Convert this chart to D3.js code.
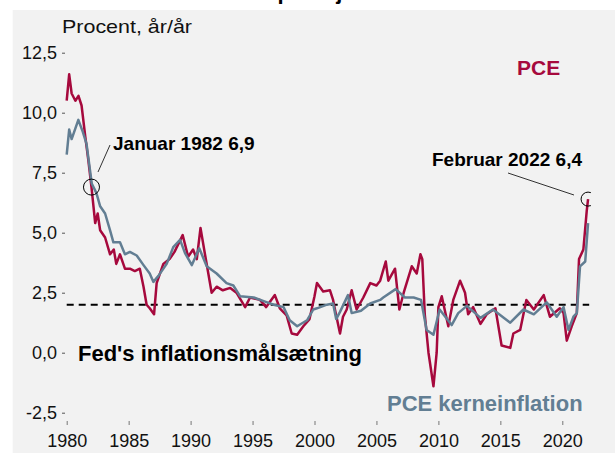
<!DOCTYPE html>
<html>
<head>
<meta charset="utf-8">
<script src="https://cdn.jsdelivr.net/npm/d3@7"></script>
<style>
  body { margin: 0; background: #fff; }
  svg { display: block; font-family: "Liberation Sans", Arial, sans-serif; }
</style>
</head>
<body>
<svg width="615" height="453"></svg>
<script>
// PCE, headline, y/y in percent
let pceYears = [1980.0, 1980.2, 1980.4, 1980.7, 1980.95, 1981.2, 1981.5, 1981.75, 1982.0, 1982.3, 1982.5, 1982.7,
  1983.1, 1983.5, 1983.8, 1984.0, 1984.3, 1984.7, 1985.1, 1985.5, 1985.9, 1986.2, 1986.45, 1986.7, 1987.05, 1987.26,
  1987.8, 1988.3, 1988.7, 1989.36, 1989.8, 1990.2, 1990.5, 1990.8, 1991.16, 1991.7, 1992.1, 1992.6, 1993.2, 1993.7,
  1994.4, 1994.8, 1995.6, 1996.1, 1996.8, 1997.2, 1997.75, 1998.16, 1998.6, 1999.1, 1999.6, 2000.0, 2000.2, 2000.7,
  2001.25, 2001.5, 2001.65, 2002.06, 2002.3, 2002.6, 2003.0, 2003.4, 2003.94, 2004.5, 2005.0, 2005.3, 2005.75, 2005.96,
  2006.5, 2006.85, 2007.2, 2007.85, 2008.25, 2008.55, 2008.7, 2008.9, 2009.2, 2009.6, 2009.86, 2010.0, 2010.27, 2010.8,
  2011.2, 2011.75, 2012.15, 2012.4, 2012.8, 2013.4, 2013.9, 2014.6, 2015.1, 2015.8, 2016.05, 2016.6, 2017.1, 2017.7,
  2018.5, 2019.0, 2019.8, 2020.1, 2020.36, 2020.76, 2021.17, 2021.35, 2021.7, 2021.97, 2022.08];
let pceValues = [10.5, 11.6, 10.8, 10.5, 10.7, 10.3, 9.0, 8.0, 6.9, 5.4, 5.8, 5.1,
  4.8, 4.1, 4.3, 3.7, 4.1, 3.5, 3.5, 3.4, 3.5, 2.75, 2.0, 1.85, 1.6, 2.9,
  3.7, 3.9, 4.2, 4.9, 4.0, 4.3, 3.9, 5.2, 4.1, 2.5, 2.75, 2.6, 2.7, 2.5,
  1.9, 2.3, 2.2, 1.9, 2.4, 1.85, 1.55, 0.8, 0.75, 1.1, 1.4, 2.35, 2.9, 2.55,
  2.6, 2.2, 1.8, 0.8, 1.5, 1.8, 2.6, 1.8, 2.3, 2.9, 2.8, 3.0, 3.8, 3.0,
  3.5, 1.8, 2.5, 3.6, 3.3, 4.1, 3.9, 1.6, 0.0, -1.4, 0.0, 1.9, 2.35, 1.1,
  2.2, 3.0, 2.5, 1.6, 1.9, 1.2, 1.6, 1.85, 0.3, 0.2, 0.8, 0.95, 2.2, 1.8,
  2.4, 1.5, 1.85, 1.65, 0.5, 1.1, 1.65, 3.9, 4.3, 5.9, 6.4];

// PCE core, y/y in percent
let coreYears = [1980.0, 1980.2, 1980.4, 1980.94, 1981.3, 1981.6, 1982.02, 1982.4, 1982.7, 1983.1, 1983.5, 1983.77,
  1984.3, 1984.7, 1985.1, 1985.65, 1986.2, 1986.7, 1987.0, 1987.4, 1988.07, 1988.6, 1989.15, 1989.55, 1990.1, 1990.7,
  1991.3, 1992.1, 1992.9, 1993.45, 1994.0, 1995.1, 1995.9, 1996.7, 1997.5, 1998.0, 1998.6, 1999.4, 1999.9, 2000.2,
  2001.0, 2001.5, 2001.75, 2002.06, 2002.7, 2003.0, 2003.75, 2004.5, 2005.3, 2005.55, 2006.55, 2007.3, 2008.0, 2008.6,
  2009.05, 2009.6, 2010.1, 2011.07, 2011.6, 2012.3, 2013.4, 2014.4, 2015.8, 2016.86, 2017.7, 2018.74, 2019.55, 2020.1,
  2020.5, 2020.9, 2021.17, 2021.43, 2021.85, 2022.08];
let coreValues = [8.25, 9.3, 8.9, 9.7, 9.2, 8.7, 7.05, 6.65, 6.1, 5.8, 5.1, 4.6,
  4.6, 4.1, 4.2, 4.05, 3.65, 3.3, 2.95, 3.2, 3.7, 4.4, 4.7, 4.15, 3.65, 4.35,
  3.6, 3.3, 2.9, 2.8, 2.35, 2.3, 2.15, 2.0, 1.9, 1.35, 1.1, 1.35, 1.8, 1.85,
  2.0, 2.05, 1.4, 1.7, 2.4, 1.65, 1.75, 2.05, 2.2, 2.3, 2.65, 2.3, 2.3, 2.2,
  0.95, 0.75, 1.8, 1.15, 1.65, 1.95, 1.45, 1.8, 1.25, 1.8, 1.6, 2.1, 1.5, 1.9,
  0.95, 1.5, 1.65, 3.6, 3.8, 5.4];

let xTicks = [1980, 1985, 1990, 1995, 2000, 2005, 2010, 2015, 2020];
let yTicks = [-2.5, 0, 2.5, 5, 7.5, 10, 12.5];
let fedTarget = 2;

let noteLabels = ["Januar 1982 6,9", "Februar 2022 6,4"];
let noteYears = [1982.0, 2022.08];
let noteValues = [6.9, 6.4];

let pceColor = "#a6093d";
let coreColor = "#627e93";

let svg = d3.select("svg");

// title sits above the grey panel and is cut off at the top in the original
svg.append("text")
    .attr("x", 55).attr("y", -1)
    .attr("font-size", 22).attr("font-weight", "bold")
    .text("Amerikansk inflation på højeste niveau i 40 år");

svg.append("rect")
    .attr("x", 12.7).attr("y", 10)
    .attr("width", 615).attr("height", 453)
    .attr("fill", "#f2f2f2");

let x = d3.scaleLinear().domain([1980, 2020]).range([66.7, 562.3]);
let y = d3.scaleLinear().domain([-2.5, 12.5]).range([412.7, 52.7]);

// danish decimal comma, plain hyphen for minus
let fmt = d => d.toFixed(1).replace(".", ",");

// y axis
let yAxis = svg.append("g")
    .attr("transform", "translate(65,0)")
    .call(d3.axisLeft(y).tickValues(yTicks).tickSize(3).tickPadding(5).tickFormat(fmt));
yAxis.select(".domain").remove();
yAxis.selectAll("line").attr("stroke", "#555");
yAxis.selectAll("text").attr("font-size", 18).attr("fill", "#111")
    .attr("font-family", "Liberation Sans, Arial, sans-serif");

// x axis
let xAxis = svg.append("g")
    .attr("transform", "translate(0,421)")
    .call(d3.axisBottom(x).tickValues(xTicks).tickSize(4).tickPadding(9).tickFormat(d3.format("d")));
xAxis.select(".domain").remove();
xAxis.selectAll("line").attr("stroke", "#777");
xAxis.selectAll("text").attr("font-size", 18).attr("fill", "#111")
    .attr("font-family", "Liberation Sans, Arial, sans-serif");

svg.append("text")
    .attr("x", 62).attr("y", 33)
    .attr("font-size", 19).attr("fill", "#111")
    .attr("textLength", 130).attr("lengthAdjust", "spacingAndGlyphs")
    .text("Procent, år/år");

// Fed target line
svg.append("line")
    .attr("x1", x(1980)).attr("x2", x(2022.17))
    .attr("y1", y(fedTarget)).attr("y2", y(fedTarget))
    .attr("stroke", "#000").attr("stroke-width", 2)
    .attr("stroke-dasharray", "7,5");

let line = d3.line()
    .x(d => x(d[0]))
    .y(d => y(d[1]));

svg.append("path")
    .datum(d3.zip(pceYears, pceValues))
    .attr("d", line)
    .attr("fill", "none")
    .attr("stroke", pceColor)
    .attr("stroke-width", 2.5)
    .attr("stroke-linejoin", "round");

svg.append("path")
    .datum(d3.zip(coreYears, coreValues))
    .attr("d", line)
    .attr("fill", "none")
    .attr("stroke", coreColor)
    .attr("stroke-width", 2.5)
    .attr("stroke-linejoin", "round");

// annotations
svg.append("clipPath").attr("id", "plotclip")
  .append("rect").attr("x", 12).attr("y", 10).attr("width", 579).attr("height", 443);

svg.selectAll("circle.note")
    .data(noteYears)
    .enter()
    .append("circle")
    .attr("class", "note")
    .attr("cx", (d, i) => x(d))
    .attr("cy", (d, i) => y(noteValues[i]))
    .attr("r", (d, i) => i == 0 ? 8 : 7)
    .attr("fill", "none")
    .attr("stroke", "#000")
    .attr("stroke-width", 1)
    .attr("clip-path", "url(#plotclip)");

svg.append("line").attr("x1", 110).attr("y1", 145).attr("x2", 98).attr("y2", 172)
    .attr("stroke", "#000").attr("stroke-width", 0.8);
svg.append("line").attr("x1", 508).attr("y1", 173).attr("x2", 574).attr("y2", 195)
    .attr("stroke", "#000").attr("stroke-width", 0.8);

svg.append("text").attr("x", 113).attr("y", 150)
    .attr("font-size", 19).attr("font-weight", "bold").attr("fill", "#000")
    .text(noteLabels[0]);
svg.append("text").attr("x", 432).attr("y", 166)
    .attr("font-size", 19).attr("font-weight", "bold").attr("fill", "#000")
    .text(noteLabels[1]);

// series labels
svg.append("text").attr("x", 517).attr("y", 75)
    .attr("font-size", 21).attr("font-weight", "bold").attr("fill", pceColor)
    .text("PCE");
svg.append("text").attr("x", 387).attr("y", 411)
    .attr("font-size", 22).attr("font-weight", "bold").attr("fill", coreColor)
    .text("PCE kerneinflation");
svg.append("text").attr("x", 78).attr("y", 361)
    .attr("font-size", 22).attr("font-weight", "bold").attr("fill", "#000")
    .text("Fed's inflationsmålsætning");
</script>
</body>
</html>
